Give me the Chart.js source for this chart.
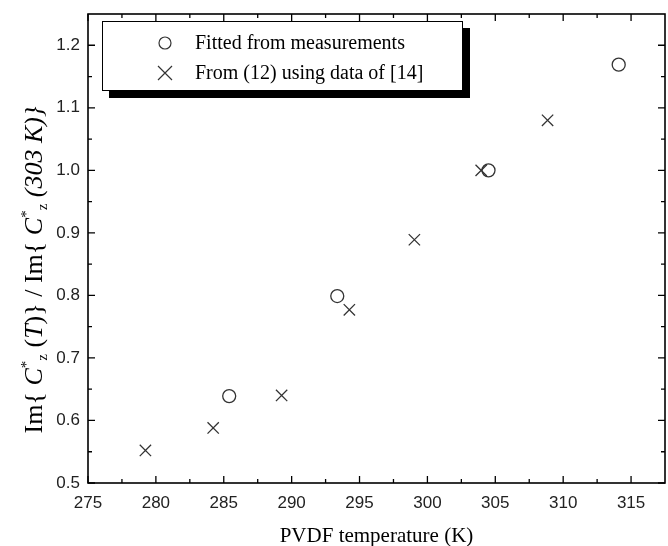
<!DOCTYPE html>
<html>
<head>
<meta charset="utf-8">
<script src="https://cdn.jsdelivr.net/npm/chart.js@4"></script>
<style>
  html, body { margin: 0; padding: 0; background: #fff; }
  #wrap { width: 668px; height: 546px; }
  canvas { display: block; }
</style>
</head>
<body>
<div id="wrap"><canvas id="chart" width="668" height="546"></canvas></div>
<script>
/* ================= DATA ================= */

const fittedT = [285.4, 293.36, 304.5, 314.09];
const fittedRatio = [0.639, 0.799, 1.0, 1.169];

const calcT = [279.23, 284.22, 289.26, 294.25, 299.04, 303.96, 308.85];
const calcRatio = [0.552, 0.588, 0.640, 0.777, 0.889, 1.0, 1.080];

const seriesLabels = ["Fitted from measurements", "From (12) using data of [14]"];
const xTitle = "PVDF temperature (K)";

const serif = "'Liberation Serif', 'Times New Roman', serif";
const sans = "'Liberation Sans', Arial, sans-serif";
const ink = "#333";

/* ================= FRAME + TICKS ================= */

const framePlugin = {
  id: "frame",
  afterDraw(chart) {
    const { ctx, chartArea: a, scales } = chart;
    ctx.save();
    ctx.strokeStyle = "#000";
    ctx.lineWidth = 1.6;
    ctx.strokeRect(a.left, a.top, a.right - a.left, a.bottom - a.top);

    ctx.lineWidth = 1.3;
    const drawX = (v, len) => {
      const px = scales.x.getPixelForValue(v);
      ctx.beginPath();
      ctx.moveTo(px, a.bottom); ctx.lineTo(px, a.bottom - len);
      ctx.moveTo(px, a.top); ctx.lineTo(px, a.top + len);
      ctx.stroke();
    };
    const drawY = (v, len) => {
      const py = scales.y.getPixelForValue(v);
      ctx.beginPath();
      ctx.moveTo(a.left, py); ctx.lineTo(a.left + len, py);
      ctx.moveTo(a.right, py); ctx.lineTo(a.right - len, py);
      ctx.stroke();
    };
    const xt = scales.x.ticks.map(t => t.value);
    xt.forEach(v => drawX(v, 7));
    for (let v = xt[0] + 2.5; v < scales.x.max; v += 5) drawX(v, 4);
    const yt = scales.y.ticks.map(t => t.value);
    yt.forEach(v => drawY(v, 7));
    for (let v = yt[0] + 0.05; v < scales.y.max; v += 0.1) drawY(v, 4);

    /* x title */
    ctx.fillStyle = "#000";
    ctx.font = "21px " + serif;
    ctx.textAlign = "center";
    ctx.textBaseline = "middle";
    ctx.fillText(xTitle, (a.left + a.right) / 2, 536);

    /* y title with super/subscripts */
    const parts = [
      ["Im{ ", "n"], ["C", "i"], ["*", "sup"], ["z", "sub"], [" (", "n"], ["T", "i"],
      [")} / Im{ ", "n"], ["C", "i"], ["*", "sup"], ["z", "sub"], [" (303 K)}", "i"]
    ];
    const fontFor = k => k === "i" ? "italic 26px " + serif
      : (k === "sup" || k === "sub") ? "15px " + serif : "26px " + serif;
    let total = 0;
    parts.forEach(([t, k]) => { ctx.font = fontFor(k); total += ctx.measureText(t).width; });
    ctx.translate(33, 270);
    ctx.rotate(-Math.PI / 2);
    ctx.textAlign = "left";
    ctx.textBaseline = "alphabetic";
    let x = -total / 2;
    parts.forEach(([t, k]) => {
      ctx.font = fontFor(k);
      const dy = k === "sup" ? -11 : k === "sub" ? 5 : 0;
      ctx.fillText(t, x, 9 + dy);
      x += ctx.measureText(t).width;
    });
    ctx.restore();
  }
};

/* ================= LEGEND BOX ================= */

const legendPlugin = {
  id: "boxLegend",
  afterDraw(chart) {
    const { ctx } = chart;
    const bx = 102, by = 21, bw = 360, bh = 69;
    ctx.save();
    ctx.fillStyle = "#000";
    ctx.fillRect(bx + 7, by + 7, bw + 1, bh + 1);
    ctx.fillStyle = "#fff";
    ctx.fillRect(bx, by, bw, bh);
    ctx.strokeStyle = "#000";
    ctx.lineWidth = 1;
    ctx.strokeRect(bx + 0.5, by + 0.5, bw, bh);

    chart.data.datasets.forEach((ds, i) => {
      const cy = by + 22 + i * 30;
      ctx.strokeStyle = ink;
      ctx.lineWidth = 1.2;
      ctx.beginPath();
      if (ds.pointStyle === "circle") {
        ctx.arc(165, cy, 6, 0, Math.PI * 2);
      } else {
        ctx.moveTo(158, cy - 7); ctx.lineTo(172, cy + 7);
        ctx.moveTo(172, cy - 7); ctx.lineTo(158, cy + 7);
      }
      ctx.stroke();
      ctx.fillStyle = "#000";
      ctx.font = "20px " + serif;
      ctx.textBaseline = "middle";
      ctx.fillText(ds.label, 195, cy + 1);
    });
    ctx.restore();
  }
};

/* ================= CHART ================= */

const ctx = document.getElementById("chart").getContext("2d");

new Chart(ctx, {
  type: "scatter",
  data: {
    datasets: [
      {
        label: seriesLabels[0],
        data: fittedT.map((t, i) => ({ x: t, y: fittedRatio[i] })),
        pointStyle: "circle",
        pointRadius: 6.5,
        pointBorderWidth: 1.3,
        pointBorderColor: ink,
        pointBackgroundColor: "rgba(0,0,0,0)"
      },
      {
        label: seriesLabels[1],
        data: calcT.map((t, i) => ({ x: t, y: calcRatio[i] })),
        pointStyle: "crossRot",
        pointRadius: 8,
        pointBorderWidth: 1.3,
        pointBorderColor: ink,
        pointBackgroundColor: "rgba(0,0,0,0)"
      }
    ]
  },
  options: {
    responsive: false,
    animation: false,
    layout: { autoPadding: false, padding: { left: 0, right: 3, top: 14, bottom: 0 } },
    plugins: {
      legend: { display: false },
      tooltip: { enabled: false }
    },
    scales: {
      x: {
        type: "linear",
        min: 275,
        max: 317.5,
        grid: { display: false, drawTicks: false },
        border: { display: false },
        ticks: {
          stepSize: 5,
          includeBounds: false,
          padding: 10,
          color: "#222",
          font: { family: sans, size: 17 },
          callback: v => v.toFixed(0)
        },
        afterFit: s => { s.height = 63; s.paddingLeft = 0; s.paddingRight = 0; }
      },
      y: {
        type: "linear",
        min: 0.5,
        max: 1.25,
        grid: { display: false, drawTicks: false },
        border: { display: false },
        ticks: {
          stepSize: 0.1,
          includeBounds: false,
          padding: 8,
          color: "#222",
          font: { family: sans, size: 17 },
          callback: v => v.toFixed(1)
        },
        afterFit: s => { s.width = 88; s.paddingTop = 0; s.paddingBottom = 0; }
      }
    }
  },
  plugins: [framePlugin, legendPlugin]
});
</script>
</body>
</html>
